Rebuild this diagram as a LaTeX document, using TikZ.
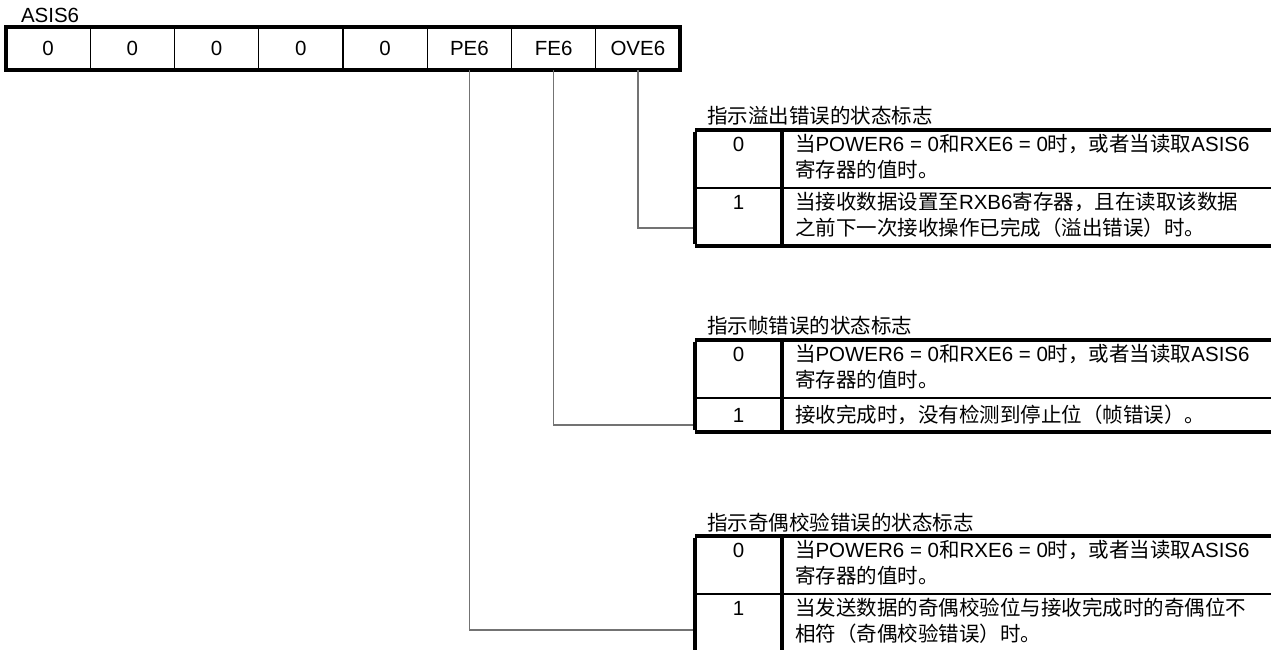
\documentclass[tikz,border=0pt]{standalone}
\usepackage{fontspec}
\setmainfont{Liberation Sans}
\newfontfamily\cjk{Noto Sans CJK SC}
\begin{document}
\begin{tikzpicture}[x=1pt,y=-1pt,
  every node/.style={inner sep=0pt, outer sep=0pt, font=\fontsize{20.5}{26}\selectfont},
  regcell/.style={draw, line width=1.3pt, minimum width=84.25pt, minimum height=43pt, anchor=north west},
  frame/.style={line width=4pt},
  rowline/.style={line width=2.2pt},
  conn/.style={draw=black!55, line width=1.3pt},
  txt/.style={anchor=base west},
  num/.style={anchor=base},
  ttl/.style={anchor=west}]
\useasboundingbox (0,0) rectangle (1271,650);

% register
\node[anchor=west] (lbl) at (21,15) {ASIS6};
\node[regcell] (b0) at (6,27) {0};
\node[regcell] (b1) at (90.25,27) {0};
\node[regcell] (b2) at (174.5,27) {0};
\node[regcell] (b3) at (258.75,27) {0};
\node[regcell] (b4) at (343,27) {0};
\node[regcell] (pe) at (427.25,27) {PE6};
\node[regcell] (fe) at (511.5,27) {FE6};
\node[regcell] (ove) at (595.75,27) {OVE6};
\draw[frame] (b0.north west) rectangle (ove.south east);

% ---------- OVE6 table
\node[ttl] (tov) at (707,116) {\cjk 指示溢出错误的状态标志};
\coordinate (ovTL) at (695,130);
\coordinate (ovTR) at (1271,130);
\coordinate (ovML) at (695,188);
\coordinate (ovMR) at (1271,188);
\coordinate (ovBL) at (695,246);
\coordinate (ovBR) at (1271,246);
\coordinate (ovCT) at (782,130);
\coordinate (ovCB) at (782,246);
\draw[frame] (ovTL) -- (ovTR);
\draw[rowline] (ovML) -- (ovMR);
\draw[frame] (ovBL) -- (ovBR);
\draw[frame] ([yshift=-2pt]ovTL) -- ([yshift=2pt]ovBL);
\draw[frame] ([yshift=-2pt]ovCT) -- ([yshift=2pt]ovCB);
\node[num] (ov0) at (738.5,151) {0};
\node[num] (ov1) at (738.5,209) {1};
\node[txt] (ov0a) at (795,151) {{\cjk 当}POWER6 = 0{\cjk 和}RXE6 = 0{\cjk 时，或者当读取}ASIS6};
\node[txt] (ov0b) at (795,177) {\cjk 寄存器的值时。};
\node[txt] (ov1a) at (795,209) {{\cjk 当接收数据设置至}RXB6{\cjk 寄存器，且在读取该数据}};
\node[txt] (ov1b) at (795,235) {\cjk 之前下一次接收操作已完成（溢出错误）时。};
\coordinate (ovc) at (693,228);
\draw[conn] (ove.south) |- (ovc);

% ---------- FE6 table
\node[ttl] (tfe) at (707,326) {\cjk 指示帧错误的状态标志};
\coordinate (feTL) at (695,340);
\coordinate (feTR) at (1271,340);
\coordinate (feML) at (695,398);
\coordinate (feMR) at (1271,398);
\coordinate (feBL) at (695,432);
\coordinate (feBR) at (1271,432);
\coordinate (feCT) at (782,340);
\coordinate (feCB) at (782,432);
\draw[frame] (feTL) -- (feTR);
\draw[rowline] (feML) -- (feMR);
\draw[frame] (feBL) -- (feBR);
\draw[frame] ([yshift=-2pt]feTL) -- ([yshift=2pt]feBL);
\draw[frame] ([yshift=-2pt]feCT) -- ([yshift=2pt]feCB);
\node[num] (fe0) at (738.5,361) {0};
\node[num] (fe1) at (738.5,422) {1};
\node[txt] (fe0a) at (795,361) {{\cjk 当}POWER6 = 0{\cjk 和}RXE6 = 0{\cjk 时，或者当读取}ASIS6};
\node[txt] (fe0b) at (795,387) {\cjk 寄存器的值时。};
\node[txt] (fe1a) at (795,422) {\cjk 接收完成时，没有检测到停止位（帧错误）。};
\coordinate (fec) at (693,425);
\draw[conn] (fe.south) |- (fec);

% ---------- PE6 table
\node[ttl] (tpe) at (707,523) {\cjk 指示奇偶校验错误的状态标志};
\coordinate (peTL) at (695,536);
\coordinate (peTR) at (1271,536);
\coordinate (peML) at (695,594);
\coordinate (peMR) at (1271,594);
\coordinate (peBL) at (695,650);
\coordinate (peCT) at (782,536);
\coordinate (peCB) at (782,650);
\draw[frame] (peTL) -- (peTR);
\draw[rowline] (peML) -- (peMR);
\draw[frame] ([yshift=-2pt]peTL) -- (peBL);
\draw[frame] ([yshift=-2pt]peCT) -- (peCB);
\node[num] (pe0) at (738.5,557) {0};
\node[num] (pe1) at (738.5,615) {1};
\node[txt] (pe0a) at (795,557) {{\cjk 当}POWER6 = 0{\cjk 和}RXE6 = 0{\cjk 时，或者当读取}ASIS6};
\node[txt] (pe0b) at (795,583) {\cjk 寄存器的值时。};
\node[txt] (pe1a) at (795,615) {\cjk 当发送数据的奇偶校验位与接收完成时的奇偶位不};
\node[txt] (pe1b) at (795,641) {\cjk 相符（奇偶校验错误）时。};
\coordinate (pec) at (693,630);
\draw[conn] (pe.south) |- (pec);
\end{tikzpicture}
\end{document}
